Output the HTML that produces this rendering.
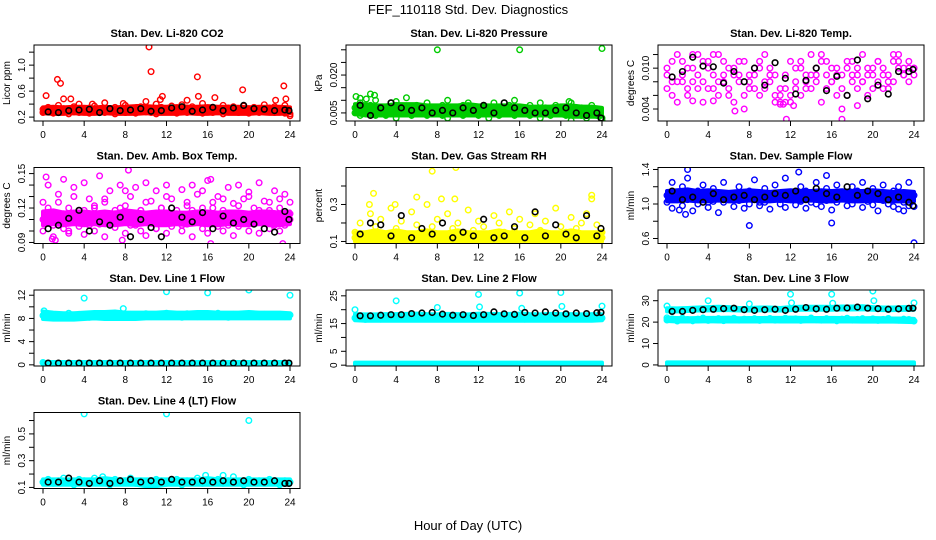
<!DOCTYPE html>
<html><head><meta charset="utf-8"><title>FEF_110118 Std. Dev. Diagnostics</title>
<style>
html,body{margin:0;padding:0;background:#fff;}
svg{display:block;font-family:"Liberation Sans",sans-serif;}
</style></head>
<body>
<svg id="chart" width="936" height="540" viewBox="0 0 936 540" xmlns="http://www.w3.org/2000/svg">
<text x="468" y="14" text-anchor="middle" font-size="13">FEF_110118  Std. Dev. Diagnostics</text>
<text x="468" y="530" text-anchor="middle" font-size="13">Hour of Day (UTC)</text>
</svg>
<script>
const xTicks=[0,4,8,12,16,20,24];
const H49=[0,0.5,1,1.5,2,2.5,3,3.5,4,4.5,5,5.5,6,6.5,7,7.5,8,8.5,9,9.5,10,10.5,11,11.5,12,12.5,13,13.5,14,14.5,15,15.5,16,16.5,17,17.5,18,18.5,19,19.5,20,20.5,21,21.5,22,22.5,23,23.5,24];
const H25=[0,1,2,3,4,5,6,7,8,9,10,11,12,13,14,15,16,17,18,19,20,21,22,23,24];
const HB=[0.5,1.5,2.5,3.5,4.5,5.5,6.5,7.5,8.5,9.5,10.5,11.5,12.5,13.5,14.5,15.5,16.5,17.5,18.5,19.5,20.5,21.5,22.5,23.5,23.9];

const co2A=[0.32,0.35,0.30,0.38,0.33,0.29,0.36,0.40,0.31,0.34,0.37,0.30,0.42,0.33,0.35,0.29,0.38,0.34,0.31,0.36,0.44,0.33,0.40,0.35,0.30,0.37,0.32,0.39,0.34,0.36,0.31,0.41,0.33,0.35,0.30,0.38,0.34,0.36,0.32,0.37,0.33,0.35,0.31,0.39,0.34,0.36,0.30,0.38,0.25];
const co2B=[0.27,0.29,0.26,0.28,0.30,0.25,0.28,0.27,0.29,0.26,0.30,0.28,0.27,0.29,0.25,0.28,0.27,0.30,0.26,0.29,0.28,0.27,0.25,0.29,0.28,0.30,0.26,0.28,0.27,0.29,0.30,0.26,0.28,0.27,0.29,0.25,0.28,0.30,0.27,0.29,0.26,0.28,0.27,0.30,0.29,0.27,0.28,0.26,0.22];
const co2Lo=[0.26,0.25,0.25,0.26,0.25,0.25,0.26,0.25,0.25,0.25,0.26,0.25,0.25,0.25,0.26,0.25,0.25,0.26,0.25,0.25,0.25,0.26,0.25,0.25,0.26];
const co2Hi=[0.35,0.36,0.35,0.36,0.36,0.35,0.36,0.35,0.36,0.37,0.37,0.36,0.36,0.37,0.36,0.36,0.37,0.36,0.36,0.36,0.35,0.36,0.36,0.36,0.35];
const co2Out=[[0.3,0.53],[1.4,0.78],[1.7,0.72],[2,0.48],[2.7,0.48],[10.3,1.28],[10.5,0.9],[11.6,0.52],[15,0.82],[15.1,0.52],[16.7,0.5],[19.4,0.62],[22.6,0.46],[23.4,0.68],[23.6,0.48],[14,0.46],[4.8,0.4],[11.4,0.47],[7.8,0.41]];
const co2K=[0.28,0.27,0.30,0.31,0.32,0.27,0.33,0.30,0.31,0.33,0.29,0.30,0.34,0.36,0.29,0.31,0.35,0.30,0.34,0.38,0.33,0.32,0.30,0.31,0.30];

const prA=[0.007,0.009,0.006,0.008,0.010,0.007,0.005,0.009,0.008,0.006,0.011,0.007,0.008,0.005,0.009,0.007,0.006,0.008,0.010,0.007,0.005,0.008,0.009,0.006,0.007,0.008,0.005,0.009,0.007,0.006,0.008,0.010,0.007,0.006,0.008,0.005,0.009,0.007,0.006,0.008,0.007,0.005,0.009,0.006,0.007,0.004,0.008,0.006,0.003];
const prB=[0.005,0.004,0.006,0.005,0.004,0.006,0.004,0.005,0.003,0.006,0.005,0.004,0.006,0.005,0.004,0.006,0.005,0.004,0.003,0.005,0.006,0.004,0.005,0.006,0.004,0.005,0.003,0.006,0.004,0.005,0.006,0.004,0.005,0.006,0.004,0.005,0.003,0.005,0.004,0.006,0.005,0.004,0.002,0.005,0.004,0.003,0.005,0.004,0.002];
const prLo=[0.0045,0.004,0.004,0.004,0.004,0.004,0.004,0.004,0.004,0.004,0.004,0.004,0.004,0.004,0.004,0.004,0.004,0.004,0.004,0.004,0.004,0.0035,0.0035,0.0035,0.0035];
const prHi=[0.0085,0.0085,0.0080,0.0080,0.0085,0.0085,0.0085,0.0080,0.0080,0.0080,0.0080,0.0085,0.0080,0.0080,0.0080,0.0080,0.0080,0.0075,0.0075,0.0075,0.0080,0.0080,0.0075,0.0075,0.0070];
const prOut=[[8,0.030],[16,0.030],[24,0.0305],[0.1,0.0115],[1.5,0.0125],[1.9,0.012],[0.5,0.0108],[1.1,0.0105],[20.8,0.0095],[4,0.0095]];
const prK=[0.008,0.004,0.007,0.009,0.007,0.006,0.007,0.005,0.006,0.005,0.007,0.006,0.008,0.005,0.009,0.007,0.006,0.005,0.005,0.006,0.007,0.005,0.004,0.005,0.003];

const tpA=[0.009,0.006,0.008,0.011,0.007,0.010,0.012,0.008,0.011,0.007,0.012,0.009,0.006,0.010,0.008,0.011,0.009,0.007,0.010,0.012,0.008,0.006,0.005,0.009,0.011,0.007,0.010,0.008,0.012,0.009,0.011,0.007,0.010,0.006,0.009,0.011,0.008,0.010,0.012,0.009,0.007,0.011,0.010,0.008,0.012,0.011,0.009,0.010,0.009];
const tpB=[0.007,0.008,0.005,0.009,0.006,0.008,0.009,0.005,0.007,0.009,0.006,0.008,0.007,0.005,0.009,0.006,0.008,0.010,0.006,0.007,0.009,0.005,0.006,0.007,0.005,0.008,0.006,0.009,0.007,0.008,0.005,0.009,0.008,0.010,0.007,0.006,0.009,0.007,0.008,0.010,0.009,0.008,0.007,0.009,0.008,0.010,0.009,0.008,0.010];
const tpC=[0.010,0.011,0.012,0.008,0.010,0.012,0.007,0.011,0.010,0.012,0.008,0.011,0.010,0.009,0.011,0.004,0.007,0.009,0.011,0.008,0.010,0.009,0.007,0.005,0.006,0.010,0.011,0.007,0.009,0.010,0.012,0.011,0.008,0.009,0.004,0.010,0.011,0.009,0.008,0.006,0.010,0.011,0.009,0.007,0.011,0.012,0.010,0.011,0.010];
const tpOut=[[11.6,0.0025],[17,0.0025],[6.6,0.0037],[18.5,0.0045],[2.5,0.0052],[4.5,0.0052],[11,0.0047],[11.3,0.0047],[12.3,0.0045]];
const tpK=[0.0087,0.0095,0.0116,0.0103,0.0102,0.0078,0.0095,0.0080,0.0100,0.0075,0.0108,0.0085,0.0062,0.0082,0.0100,0.0067,0.0088,0.0060,0.0112,0.0055,0.0075,0.0062,0.0095,0.0095,0.0098];

const abA=[0.110,0.120,0.105,0.125,0.115,0.100,0.130,0.110,0.118,0.105,0.122,0.112,0.128,0.108,0.115,0.120,0.135,0.110,0.105,0.118,0.125,0.112,0.102,0.120,0.130,0.110,0.115,0.105,0.125,0.118,0.110,0.135,0.108,0.120,0.112,0.128,0.105,0.115,0.122,0.110,0.130,0.108,0.118,0.113,0.125,0.105,0.120,0.110,0.115];
const abB=[0.100,0.108,0.095,0.112,0.102,0.098,0.110,0.104,0.097,0.112,0.100,0.106,0.095,0.108,0.103,0.110,0.098,0.105,0.112,0.100,0.096,0.108,0.102,0.110,0.098,0.104,0.112,0.100,0.106,0.095,0.108,0.102,0.098,0.110,0.104,0.100,0.108,0.096,0.104,0.110,0.100,0.106,0.098,0.112,0.102,0.108,0.100,0.105,0.110];
const abC=[0.125,0.140,0.115,0.132,0.145,0.120,0.138,0.118,0.142,0.128,0.120,0.148,0.125,0.135,0.118,0.140,0.122,0.130,0.138,0.118,0.142,0.126,0.135,0.120,0.140,0.128,0.118,0.136,0.122,0.140,0.132,0.120,0.144,0.125,0.130,0.118,0.138,0.124,0.140,0.128,0.134,0.120,0.142,0.126,0.118,0.135,0.128,0.132,0.125];
const abLo=[0.105,0.106,0.105,0.106,0.105,0.106,0.105,0.105,0.106,0.105,0.106,0.105,0.105,0.106,0.105,0.106,0.105,0.105,0.106,0.105,0.105,0.106,0.105,0.105,0.106];
const abHi=[0.117,0.118,0.116,0.117,0.117,0.116,0.117,0.116,0.118,0.117,0.116,0.117,0.117,0.116,0.116,0.117,0.117,0.116,0.117,0.117,0.116,0.117,0.117,0.116,0.117];
const abOut=[[0.3,0.147],[8.3,0.153],[16.3,0.145],[16.3,0.089],[23.3,0.089],[1.2,0.092],[7.7,0.092],[0.9,0.093]];
const abK=[0.102,0.105,0.111,0.118,0.100,0.108,0.105,0.112,0.095,0.110,0.103,0.095,0.120,0.112,0.108,0.116,0.102,0.113,0.107,0.110,0.106,0.102,0.099,0.117,0.110];

const rhA=[0.15,0.20,0.13,0.25,0.18,0.22,0.14,0.28,0.17,0.21,0.13,0.26,0.19,0.15,0.30,0.18,0.22,0.14,0.25,0.17,0.20,0.13,0.27,0.16,0.21,0.18,0.14,0.24,0.20,0.15,0.26,0.17,0.22,0.14,0.19,0.25,0.16,0.21,0.13,0.28,0.18,0.15,0.23,0.17,0.20,0.25,0.33,0.19,0.15];
const rhB=[0.12,0.11,0.13,0.12,0.14,0.11,0.12,0.13,0.11,0.12,0.14,0.11,0.13,0.12,0.11,0.14,0.12,0.13,0.11,0.12,0.13,0.11,0.14,0.12,0.13,0.11,0.12,0.14,0.12,0.11,0.13,0.12,0.14,0.11,0.12,0.13,0.11,0.12,0.14,0.13,0.11,0.12,0.13,0.12,0.11,0.14,0.12,0.13,0.12];
const rhLo=[0.10,0.10,0.10,0.10,0.10,0.10,0.10,0.10,0.10,0.10,0.10,0.10,0.10,0.10,0.10,0.10,0.10,0.10,0.10,0.10,0.10,0.10,0.10,0.10,0.10];
const rhHi=[0.15,0.15,0.16,0.15,0.16,0.15,0.15,0.16,0.15,0.15,0.16,0.15,0.15,0.15,0.16,0.15,0.15,0.15,0.16,0.15,0.15,0.16,0.15,0.15,0.15];
const rhOut=[[7.5,0.48],[9.8,0.5],[1.8,0.36],[6,0.34],[23,0.35],[8.4,0.33],[9.7,0.33],[1.4,0.3],[3.9,0.3]];
const rhK=[0.14,0.20,0.19,0.13,0.24,0.12,0.17,0.14,0.20,0.12,0.15,0.13,0.22,0.12,0.13,0.18,0.12,0.26,0.13,0.19,0.14,0.12,0.24,0.13,0.17];

const sfA=[1.10,1.25,1.05,1.20,1.30,1.08,1.15,1.22,1.02,1.18,1.10,1.25,1.05,1.12,1.20,1.08,1.15,1.28,1.02,1.18,1.10,1.22,1.05,1.30,1.12,1.08,1.20,1.15,1.02,1.25,1.10,1.18,1.05,1.22,1.12,1.08,1.20,1.15,1.25,1.05,1.18,1.10,1.22,1.08,1.15,1.20,1.05,1.25,1.10];
const sfB=[1.02,0.95,1.08,0.98,1.05,0.92,1.00,1.06,0.96,1.03,0.90,1.02,1.07,0.97,1.04,0.95,1.00,1.08,0.98,1.02,0.94,1.06,1.00,0.96,1.05,0.99,1.03,0.95,1.07,1.00,0.97,1.04,0.93,1.02,1.06,0.98,1.00,1.05,0.96,1.03,0.99,0.92,1.04,1.00,0.97,0.94,1.02,0.98,0.97];
const sfLo=[1.03,1.03,1.04,1.03,1.03,1.04,1.03,1.03,1.04,1.03,1.03,1.04,1.03,1.03,1.04,1.03,1.03,1.04,1.03,1.03,1.04,1.03,1.03,1.03,1.03];
const sfHi=[1.15,1.16,1.17,1.15,1.16,1.15,1.14,1.15,1.16,1.15,1.14,1.15,1.16,1.15,1.15,1.16,1.15,1.16,1.15,1.15,1.16,1.15,1.14,1.15,1.14];
const sfOut=[[8,0.75],[16,0.78],[24,0.55],[2,1.4],[12.8,1.37],[15.5,1.33],[1.2,0.93],[1.8,0.88],[23,0.92]];
const sfK=[1.15,1.05,1.08,1.02,1.12,1.05,1.08,1.10,1.05,1.08,1.12,1.10,1.15,1.05,1.18,1.12,1.08,1.20,1.10,1.15,1.12,1.05,1.08,1.02,0.98];

const l1A=[8.5,8.8,8.2,8.6,8.4,8.9,8.3,8.7,8.5,8.2,8.8,8.4,8.6,8.3,8.9,8.5,8.2,8.7,8.4,8.6,8.8,8.3,8.5,8.7,8.9,8.4,8.6,8.2,8.8,8.5,8.3,8.7,8.6,8.4,8.9,8.5,8.2,8.7,8.6,8.4,8.8,8.5,8.3,8.7,8.6,8.4,8.5,8.3,8.6];
const l1Lo=[7.9,7.8,7.8,7.8,7.9,8.0,7.9,7.9,7.9,7.9,8.0,8.0,8.0,8.0,8.0,8.0,8.0,8.0,8.0,8.0,8.0,8.0,8.0,8.0,8.0];
const l1Hi=[9.2,9.0,8.9,8.9,9.0,9.1,9.1,9.2,9.0,9.0,9.0,9.0,9.1,9.0,9.0,9.1,9.1,9.0,9.0,9.0,9.1,9.0,9.0,9.0,8.9];
const l1LowLo=[0.2,0.2,0.2,0.2,0.2,0.2,0.2,0.2,0.2,0.2,0.2,0.2,0.2,0.2,0.2,0.2,0.2,0.2,0.2,0.2,0.2,0.2,0.2,0.2,0.2];
const l1LowHi=[0.5,0.5,0.5,0.5,0.5,0.5,0.5,0.5,0.5,0.5,0.5,0.5,0.5,0.5,0.5,0.5,0.5,0.5,0.5,0.5,0.5,0.5,0.5,0.5,0.5];
const l1Out=[[4,11.5],[12,12.6],[16,12.4],[20,12.9],[24,12.0],[0.1,9.3],[7.8,9.7],[0,0.4]];
const l1K=[0.3,0.3,0.3,0.3,0.3,0.3,0.3,0.3,0.3,0.3,0.3,0.3,0.3,0.3,0.3,0.3,0.3,0.3,0.3,0.3,0.3,0.3,0.3,0.3,0.3];

const l2A=[17.0,17.5,16.5,17.8,17.2,16.6,17.4,17.9,16.8,17.3,17.6,16.7,17.2,17.8,16.9,17.4,17.0,17.6,16.8,17.3,17.7,16.9,17.2,17.8,17.0,17.5,16.8,17.3,17.9,17.1,16.9,17.6,17.2,16.6,17.4,17.8,16.9,17.3,17.6,17.0,17.5,16.8,17.3,17.7,17.0,16.9,17.4,17.2,17.0];
const l2Lo=[16.2,16.0,16.0,16.0,16.0,16.0,16.0,16.0,16.0,16.0,16.0,16.0,16.0,16.0,16.0,16.0,16.0,16.0,16.0,16.0,16.0,16.0,16.0,16.0,16.2];
const l2Hi=[18.4,18.3,18.3,18.4,18.4,18.5,18.6,18.4,18.3,18.5,18.4,18.3,18.6,18.5,18.4,18.5,18.6,18.4,18.3,18.5,18.4,18.4,18.3,18.4,18.3];
const l2LowLo=[0.2,0.2,0.2,0.2,0.2,0.2,0.2,0.2,0.2,0.2,0.2,0.2,0.2,0.2,0.2,0.2,0.2,0.2,0.2,0.2,0.2,0.2,0.2,0.2,0.2];
const l2LowHi=[0.9,0.9,0.9,0.9,0.9,0.9,0.9,0.9,0.9,0.9,0.9,0.9,0.9,0.9,0.9,0.9,0.9,0.9,0.9,0.9,0.9,0.9,0.9,0.9,0.9];
const l2Out=[[4,23.2],[12,25.5],[16,26],[20,26.2],[12.1,21],[24,21.3],[8,20.8],[0,20],[20.1,21.2],[16.2,20.5]];
const l2K=[17.8,17.8,18.0,18.2,18.2,18.6,18.8,19.0,18.4,18.0,18.2,17.9,18.2,19.2,18.5,18.3,19.0,18.8,19.2,18.8,18.5,18.8,18.6,18.9,19.0];

const l3A=[21.0,21.5,20.5,21.8,21.2,20.6,21.4,21.9,20.8,21.3,21.6,20.7,21.2,21.8,20.9,21.4,21.0,21.6,20.8,21.3,21.7,20.9,21.2,21.8,21.0,21.5,20.8,21.3,21.9,21.1,20.9,21.6,21.2,20.6,21.4,21.8,20.9,21.3,21.6,21.0,21.5,20.8,21.3,21.7,21.0,20.9,21.4,21.2,20.5];
const l3Lo=[20.5,20.3,20.3,20.3,20.4,20.3,20.3,20.3,20.3,20.3,20.4,20.3,20.3,20.3,20.4,20.3,20.3,20.3,20.3,20.2,20.2,20.2,20.2,20.1,20.0];
const l3Hi=[22.0,21.9,21.8,21.9,22.0,22.0,22.1,21.8,21.9,21.9,22.0,22.0,22.1,22.0,21.9,21.9,22.0,21.9,21.8,21.8,21.9,21.8,21.7,21.7,21.5];
const l3UpLo=[25.0,25.0,25.2,25.4,25.5,25.6,25.6,25.4,25.4,25.5,25.5,25.4,25.6,25.8,25.8,25.8,25.8,25.9,25.9,26.0,25.8,25.6,25.6,25.7,25.8];
const l3UpHi=[26.5,26.4,26.6,26.8,27.0,27.2,27.0,26.6,26.6,26.8,26.8,26.6,27.0,27.2,27.2,27.2,27.1,27.3,27.3,27.4,27.0,26.8,26.8,27.0,27.0];
const l3LowLo=[0.1,0.1,0.1,0.1,0.1,0.1,0.1,0.1,0.1,0.1,0.1,0.1,0.1,0.1,0.1,0.1,0.1,0.1,0.1,0.1,0.1,0.1,0.1,0.1,0.1];
const l3LowHi=[1.2,1.2,1.2,1.2,1.2,1.2,1.2,1.2,1.2,1.2,1.2,1.2,1.2,1.2,1.2,1.2,1.2,1.2,1.2,1.2,1.2,1.2,1.2,1.2,1.2];
const l3Out=[[4,30],[12,33],[16,33],[20,34.5],[20.1,30],[24,29],[8,28.5],[0,27.5],[12.1,29],[16.1,28.8],[0,22]];
const l3K=[25.0,25.0,25.5,25.8,26.0,26.3,26.5,25.8,25.5,25.8,26.0,25.5,26.0,26.8,26.2,26.0,26.5,26.6,27.0,26.5,26.3,26.0,26.2,26.4,26.5];

const l4A=[0.14,0.16,0.13,0.15,0.17,0.14,0.12,0.16,0.15,0.13,0.17,0.14,0.15,0.12,0.16,0.14,0.15,0.17,0.13,0.15,0.14,0.12,0.16,0.15,0.13,0.14,0.16,0.12,0.15,0.14,0.17,0.13,0.15,0.14,0.16,0.13,0.15,0.18,0.14,0.12,0.16,0.14,0.15,0.13,0.16,0.14,0.12,0.15,0.14];
const l4Lo=[0.12,0.12,0.12,0.12,0.12,0.12,0.12,0.12,0.12,0.12,0.11,0.11,0.12,0.12,0.12,0.12,0.12,0.12,0.12,0.12,0.12,0.12,0.12,0.12,0.12];
const l4Hi=[0.16,0.16,0.16,0.16,0.16,0.16,0.17,0.16,0.16,0.16,0.16,0.16,0.16,0.16,0.16,0.16,0.17,0.16,0.16,0.16,0.16,0.16,0.16,0.16,0.16];
const l4Out=[[4,0.65],[12,0.65],[20,0.6],[15.8,0.19],[17.5,0.19],[5.8,0.18]];
const l4K=[0.14,0.14,0.17,0.14,0.13,0.15,0.13,0.15,0.16,0.14,0.15,0.14,0.16,0.14,0.14,0.15,0.14,0.15,0.14,0.15,0.14,0.14,0.15,0.13,0.13];

const panels=[
 {name:'co2',title:'Stan. Dev. Li-820 CO2',ylab:'Licor ppm',col:0,row:0,ymin:0.14,ymax:1.31,ticks:[0.2,0.4,0.6,0.8,1.0,1.2],labels:['0.2','','0.6','','1.0',''],color:'#ff0000',bands:[[co2Lo,co2Hi]],pts:[co2A,co2B],out:co2Out,black:co2K},
 {name:'pressure',title:'Stan. Dev. Li-820 Pressure',ylab:'kPa',col:1,row:0,ymin:0.0018,ymax:0.0319,ticks:[0.005,0.010,0.015,0.020,0.025,0.030],labels:['0.005','','','0.020','',''],color:'#00cc00',bands:[[prLo,prHi]],pts:[prA,prB],out:prOut,black:prK},
 {name:'temp',title:'Stan. Dev. Li-820 Temp.',ylab:'degrees C',col:2,row:0,ymin:0.00224,ymax:0.0134,ticks:[0.004,0.006,0.008,0.010,0.012],labels:['0.004','','','0.010',''],color:'#ff00ff',bands:[],pts:[tpA,tpB,tpC],out:tpOut,black:tpK},
 {name:'amb-box-temp',title:'Stan. Dev. Amb. Box Temp.',ylab:'degrees C',col:0,row:1,ymin:0.0891,ymax:0.1553,ticks:[0.09,0.10,0.11,0.12,0.13,0.14,0.15],labels:['0.09','','','0.12','','','0.15'],color:'#ff00ff',bands:[[abLo,abHi]],pts:[abA,abB,abC],out:abOut,black:abK},
 {name:'gas-rh',title:'Stan. Dev. Gas Stream RH',ylab:'percent',col:1,row:1,ymin:0.089,ymax:0.5,ticks:[0.1,0.2,0.3,0.4],labels:['0.1','','0.3',''],color:'#ffff00',bands:[[rhLo,rhHi]],pts:[rhA,rhB],out:rhOut,black:rhK},
 {name:'sample-flow',title:'Stan. Dev. Sample Flow',ylab:'ml/min',col:2,row:1,ymin:0.542,ymax:1.423,ticks:[0.6,0.8,1.0,1.2,1.4],labels:['0.6','','1.0','','1.4'],color:'#0000ff',bands:[[sfLo,sfHi]],pts:[sfA,sfB],out:sfOut,black:sfK},
 {name:'line1-flow',title:'Stan. Dev. Line 1 Flow',ylab:'ml/min',col:0,row:2,ymin:-0.2,ymax:12.9,ticks:[0,2,4,6,8,10,12],labels:['0','','4','','8','','12'],color:'#00ffff',bands:[[l1Lo,l1Hi],[l1LowLo,l1LowHi]],pts:[l1A],out:l1Out,black:l1K},
 {name:'line2-flow',title:'Stan. Dev. Line 2 Flow',ylab:'ml/min',col:1,row:2,ymin:-0.3,ymax:27.1,ticks:[0,5,10,15,20,25],labels:['0','5','','15','','25'],color:'#00ffff',bands:[[l2Lo,l2Hi],[l2LowLo,l2LowHi]],pts:[l2A],out:l2Out,black:l2K},
 {name:'line3-flow',title:'Stan. Dev. Line 3 Flow',ylab:'ml/min',col:2,row:2,ymin:-0.5,ymax:35,ticks:[0,10,20,30],labels:['0','10','20','30'],color:'#00ffff',bands:[[l3Lo,l3Hi],[l3UpLo,l3UpHi],[l3LowLo,l3LowHi]],pts:[l3A],out:l3Out,black:l3K},
 {name:'line4-flow',title:'Stan. Dev. Line 4 (LT) Flow',ylab:'ml/min',col:0,row:3,ymin:0.092,ymax:0.66,ticks:[0.1,0.2,0.3,0.4,0.5,0.6],labels:['0.1','','0.3','','0.5',''],color:'#00ffff',bands:[[l4Lo,l4Hi]],pts:[l4A],out:l4Out,black:l4K}
];

const NS='http://www.w3.org/2000/svg';
const svg=document.getElementById('chart');
function mk(tag,attrs,parent){const e=document.createElementNS(NS,tag);for(const k in attrs)e.setAttribute(k,attrs[k]);parent.appendChild(e);return e;}

panels.forEach(p=>{
  const L=34+p.col*312, R=L+266, T=45+p.row*122.5, B=T+76;
  const x0=43, x1=290;
  const sx=h=>L+(x0-34)+(h/24)*(x1-x0);
  const sy=v=>B-(v-p.ymin)/(p.ymax-p.ymin)*(B-T);
  const g=mk('g',{},svg);
  
  
  const t=mk('text',{x:(L+R)/2,y:T-8,'text-anchor':'middle','font-size':'11','font-weight':'bold'},g);
  t.textContent=p.title;
  
  
  const defs=mk('clipPath',{id:'clip-'+p.name},g);
  mk('rect',{x:L,y:T,width:R-L,height:B-T},defs);
  const plot=mk('g',{'clip-path':'url(#clip-'+p.name+')'},g);
  p.bands.forEach((bd,bi)=>{
    const lo=bd[0],hi=bd[1];
    let pts=H25.map((h,i)=>sx(h)+','+sy(hi[i]));
    pts=pts.concat(H25.slice().reverse().map((h,j)=>{const i=H25.length-1-j;return sx(h)+','+sy(lo[i]);}));
    const poly=mk('polygon',{points:pts.join(' '),fill:p.color,stroke:p.color,'stroke-width':'4','stroke-linejoin':'round'},plot);
    
    
  });
  p.pts.forEach((arr,si)=>{
    arr.forEach((v,i)=>{
      const c=mk('circle',{cx:sx(H49[i]),cy:sy(v),r:2.8,fill:'none',stroke:p.color,'stroke-width':'1.4'},plot);
      
      
    });
  });
  p.out.forEach(o=>{
    const c=mk('circle',{cx:sx(o[0]),cy:sy(o[1]),r:2.8,fill:'none',stroke:p.color,'stroke-width':'1.4'},plot);
    
    
  });
  p.black.forEach((v,i)=>{
    const c=mk('circle',{cx:sx(HB[i]),cy:sy(v),r:2.8,fill:'none',stroke:'#000','stroke-width':'1.6'},plot);
    
    
  });
  const box=mk('rect',{x:L,y:T,width:R-L,height:B-T,fill:'none',stroke:'#000','stroke-width':'1'},g);
  
  
  const xa=mk('g',{},g);
  
  
  xTicks.forEach(h=>{
    mk('line',{x1:sx(h),x2:sx(h),y1:B,y2:B+5,stroke:'#000'},xa);
    const tx=mk('text',{x:sx(h),y:B+17,'text-anchor':'middle','font-size':'10'},xa);
    tx.textContent=String(h);
  });
  const ya=mk('g',{},g);
  
  
  p.ticks.forEach((v,i)=>{
    const y=sy(v);
    mk('line',{x1:L-5,x2:L,y1:y,y2:y,stroke:'#000'},ya);
    if(p.labels[i]){
      const tx=mk('text',{x:L-9,y:y,'text-anchor':'middle','font-size':'10',transform:'rotate(-90 '+(L-9)+' '+y+')'},ya);
      tx.textContent=p.labels[i];
    }
  });
  const yl=mk('text',{x:L-24,y:(T+B)/2,'text-anchor':'middle','font-size':'10',transform:'rotate(-90 '+(L-24)+' '+((T+B)/2)+')'},g);
  yl.textContent=p.ylab;
  
  
});
</script>
</body></html>
